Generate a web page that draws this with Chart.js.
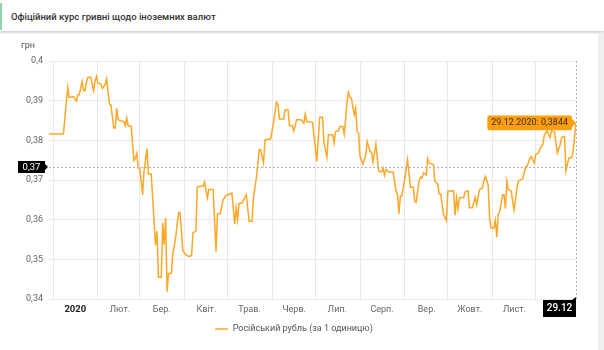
<!DOCTYPE html>
<html>
<head>
<meta charset="utf-8">
<script src="https://cdn.jsdelivr.net/npm/chart.js@4.4.1/dist/chart.umd.min.js"></script>
<style>
  html, body { margin: 0; padding: 0; }
  body { width: 604px; height: 350px; background: #f0f0f0; position: relative; overflow: hidden; font-family: Roboto, sans-serif; }
  #head { position: absolute; left: 0; top: 0; width: 604px; height: 31px; background: #fff; box-shadow: 0 1px 2px rgba(0,0,0,0.15); }
  #head .bar { position: absolute; left: 0; top: 3px; width: 2px; height: 27px; background: #8fd3ae; }
  #head .title { position: absolute; left: 11px; top: 11px; font-size: 9.5px; line-height: 11px; font-weight: 500; color: #333; }
  #card { position: absolute; left: 0; top: 34px; width: 598px; height: 316px; background: #fff; }
  #wrap { position: absolute; left: 0; top: 0; width: 604px; height: 350px; }
</style>
</head>
<body>
<div id="head"><div class="bar"></div><div class="title">Офіційний курс гривні щодо іноземних валют</div></div>
<div id="card"></div>
<div id="wrap"><canvas id="chart"></canvas></div>
<script>
// day of year 2020 (0 = 1 Jan) and official rate, UAH per 1 RUB
const days = [
  -3, 7, 10, 11, 14, 16, 17, 18, 20, 21,
  22, 23, 24, 26, 28, 29, 30, 31, 33, 34,
  36, 37, 38, 39, 40, 42, 43, 44, 45, 47,
  49, 50, 51, 52, 54, 56, 57, 58, 59, 60,
  62, 63, 65, 66, 68, 69, 71, 72, 73, 75,
  76, 77, 78, 79, 80, 82, 83, 85, 87, 88,
  90, 92, 94, 96, 97, 99, 100, 102, 104, 105,
  107, 108, 111, 113, 114, 116, 118, 120, 124, 126,
  127, 128, 129, 131, 134, 136, 138, 139, 141, 143,
  144, 146, 147, 151, 153, 155, 156, 157, 160, 161,
  163, 164, 166, 167, 169, 172, 174, 175, 176, 180,
  183, 185, 187, 188, 190, 191, 194, 195, 196, 198,
  199, 201, 202, 203, 204, 205, 206, 207, 209, 210,
  211, 212, 213, 215, 217, 218, 220, 221, 222, 224,
  226, 228, 229, 230, 231, 233, 236, 238, 239, 240,
  241, 242, 244, 246, 247, 248, 250, 251, 252, 254,
  255, 256, 257, 259, 260, 261, 264, 265, 267, 268,
  269, 271, 273, 274, 278, 279, 280, 281, 282, 285,
  286, 288, 289, 291, 293, 294, 296, 298, 299, 300,
  302, 303, 304, 306, 307, 308, 309, 310, 312, 313,
  314, 315, 316, 318, 319, 320, 322, 323, 325, 326,
  328, 329, 331, 332, 334, 335, 337, 338, 340, 341,
  343, 344, 345, 346, 348, 349, 350, 352, 353, 355,
  356, 358, 360, 361, 363
];
const rates = [
  0.3816, 0.3816, 0.3933, 0.3908, 0.3910, 0.3899, 0.3915, 0.3915, 0.3948, 0.3925,
  0.3925, 0.3946, 0.3959, 0.3959, 0.3925, 0.3950, 0.3961, 0.3944, 0.3942, 0.3931,
  0.3940, 0.3955, 0.3923, 0.3891, 0.3889, 0.3831, 0.3831, 0.3881, 0.3852, 0.3849,
  0.3847, 0.3837, 0.3856, 0.3836, 0.3836, 0.3749, 0.3755, 0.3767, 0.3730, 0.3730,
  0.3663, 0.3722, 0.3779, 0.3715, 0.3715, 0.3655, 0.3536, 0.3571, 0.3455, 0.3455,
  0.3592, 0.3537, 0.3604, 0.3418, 0.3464, 0.3464, 0.3514, 0.3556, 0.3618, 0.3618,
  0.3521, 0.3512, 0.3507, 0.3509, 0.3567, 0.3571, 0.3682, 0.3684, 0.3684, 0.3695,
  0.3655, 0.3676, 0.3676, 0.3519, 0.3615, 0.3615, 0.3651, 0.3661, 0.3667, 0.3589,
  0.3630, 0.3600, 0.3641, 0.3642, 0.3663, 0.3596, 0.3596, 0.3655, 0.3705, 0.3776,
  0.3776, 0.3743, 0.3801, 0.3804, 0.3847, 0.3896, 0.3891, 0.3854, 0.3854, 0.3877,
  0.3877, 0.3837, 0.3837, 0.3824, 0.3852, 0.3852, 0.3843, 0.3866, 0.3847, 0.3846,
  0.3747, 0.3858, 0.3858, 0.3793, 0.3757, 0.3814, 0.3814, 0.3793, 0.3822, 0.3824,
  0.3835, 0.3835, 0.3816, 0.3852, 0.3898, 0.3921, 0.3908, 0.3906, 0.3864, 0.3881,
  0.3821, 0.3818, 0.3759, 0.3740, 0.3764, 0.3797, 0.3772, 0.3770, 0.3745, 0.3790,
  0.3722, 0.3720, 0.3730, 0.3712, 0.3726, 0.3720, 0.3720, 0.3672, 0.3663, 0.3615,
  0.3659, 0.3659, 0.3701, 0.3751, 0.3718, 0.3682, 0.3682, 0.3646, 0.3644, 0.3697,
  0.3707, 0.3705, 0.3718, 0.3713, 0.3754, 0.3743, 0.3739, 0.3697, 0.3690, 0.3665,
  0.3665, 0.3613, 0.3598, 0.3672, 0.3673, 0.3611, 0.3655, 0.3628, 0.3655, 0.3656,
  0.3670, 0.3673, 0.3630, 0.3630, 0.3656, 0.3638, 0.3676, 0.3680, 0.3698, 0.3709,
  0.3688, 0.3604, 0.3579, 0.3579, 0.3598, 0.3556, 0.3613, 0.3621, 0.3663, 0.3663,
  0.3628, 0.3697, 0.3676, 0.3672, 0.3646, 0.3625, 0.3680, 0.3698, 0.3701, 0.3703,
  0.3734, 0.3734, 0.3755, 0.3759, 0.3743, 0.3764, 0.3768, 0.3780, 0.3790, 0.3814,
  0.3824, 0.3814, 0.3807, 0.3824, 0.3821, 0.3797, 0.3768, 0.3789, 0.3807, 0.3810,
  0.3723, 0.3755, 0.3757, 0.3772, 0.3844
];
// month starts (day of year) and their labels
const monthStarts = [0, 31, 60, 91, 121, 152, 182, 213, 244, 274, 305, 335];
const monthLabels = ['2020', 'Лют.', 'Бер.', 'Квіт.', 'Трав.', 'Черв.', 'Лип.', 'Серп.', 'Вер.', 'Жовт.', 'Лист.', 'Груд.'];
const yTicks = [0.34, 0.35, 0.36, 0.37, 0.38, 0.39, 0.40];
const seriesName = 'Російський рубль (за 1 одиницю)';
// where the mouse sits on the picture (rate under the cursor)
const cursorRate = 0.3733;

const ORANGE = '#ffa726';

function dayToDate(d) {
  const dt = new Date(Date.UTC(2020, 0, 1 + d));
  const dd = String(dt.getUTCDate()).padStart(2, '0');
  const mm = String(dt.getUTCMonth() + 1).padStart(2, '0');
  return { dd: dd, mm: mm, yyyy: dt.getUTCFullYear() };
}
const comma = (v, n) => v.toFixed(n).replace('.', ',');
const yLabel = v => String(+v.toFixed(2)).replace('.', ',');

Chart.defaults.font.family = 'Roboto, sans-serif';
Chart.defaults.font.size = 9;
Chart.defaults.color = '#666';

// crosshair lines + black labels, and the "грн" unit
const crosshair = {
  id: 'crosshair',
  afterDatasetsDraw(chart) {
    const { ctx, chartArea: a, scales } = chart;
    const lastDay = days[days.length - 1];
    const px = Math.round(scales.x.getPixelForValue(lastDay));
    const py = Math.round(scales.y.getPixelForValue(cursorRate));
    ctx.save();
    ctx.strokeStyle = '#b0b0b0';
    ctx.lineWidth = 1;
    ctx.setLineDash([2, 2]);
    ctx.beginPath();
    ctx.moveTo(a.left, py + 0.5); ctx.lineTo(a.right, py + 0.5);
    ctx.moveTo(px + 0.5, a.top); ctx.lineTo(px + 0.5, a.bottom);
    ctx.stroke();
    ctx.setLineDash([]);

    ctx.textAlign = 'center';
    ctx.textBaseline = 'middle';

    // value label on y axis
    const r = a.left - 4;
    ctx.fillStyle = '#000';
    ctx.fillRect(r - 27, py - 6, 27, 12);
    ctx.beginPath();
    ctx.moveTo(r, py - 3); ctx.lineTo(r + 3, py); ctx.lineTo(r, py + 3);
    ctx.fill();
    ctx.fillStyle = '#fff';
    ctx.font = '9.5px Roboto, sans-serif';
    ctx.fillText(yLabel(cursorRate), r - 13.5, py + 0.5);

    // date label on x axis
    const d = dayToDate(lastDay);
    const top = a.bottom + 1;
    ctx.fillStyle = '#000';
    ctx.fillRect(px - 33, top, 33, 17);
    ctx.beginPath();
    ctx.moveTo(px - 4, top); ctx.lineTo(px, top - 3); ctx.lineTo(px, top);
    ctx.fill();
    ctx.fillStyle = '#fff';
    ctx.font = '500 10px Roboto, sans-serif';
    ctx.fillText(d.dd + '.' + d.mm, px - 16.5, top + 8.5);

    // unit over the y axis
    ctx.fillStyle = '#555';
    ctx.font = '9px Roboto, sans-serif';
    ctx.fillText('грн', 28, 46);
    ctx.restore();
  }
};

const chart = new Chart(document.getElementById('chart'), {
  type: 'line',
  data: {
    datasets: [{
      label: seriesName,
      data: days.map((d, i) => ({ x: d, y: rates[i] })),
      borderColor: ORANGE,
      backgroundColor: ORANGE,
      borderWidth: 1.5,
      pointRadius: 0,
      pointHoverRadius: 0,
      tension: 0,
      fill: false
    }]
  },
  options: {
    responsive: true,
    maintainAspectRatio: false,
    animation: false,
    events: [],
    layout: { padding: { left: 12, right: 28, top: 61, bottom: 6.5 } },
    scales: {
      x: {
        type: 'linear',
        min: -3,
        max: 363,
        afterBuildTicks: s => { s.ticks = monthStarts.map(v => ({ value: v })); },
        afterFit: s => { s.height = 17.5; },
        border: { display: false },
        grid: { color: '#e9e9e9', drawTicks: false },
        ticks: {
          autoSkip: false,
          maxRotation: 0,
          labelOffset: 22,
          padding: 5,
          callback: (v, i) => monthLabels[i],
          color: c => (c.index === 0 ? '#222' : '#666'),
          font: c => (c.index === 0 ? { weight: 'bold', size: 9.5 } : { size: 9 })
        }
      },
      y: {
        min: 0.34,
        max: 0.40,
        afterBuildTicks: s => { s.ticks = yTicks.map(v => ({ value: v })); },
        afterFit: s => { s.width = 37; },
        border: { display: false },
        grid: { color: '#e9e9e9', drawTicks: false },
        ticks: { padding: 6, callback: v => yLabel(v) }
      }
    },
    plugins: {
      legend: {
        position: 'bottom',
        labels: {
          usePointStyle: true,
          pointStyle: 'line',
          pointStyleWidth: 13,
          padding: 8,
          color: '#555',
          font: { size: 9 }
        }
      },
      tooltip: {
        backgroundColor: '#ff9d0a',
        bodyColor: '#333',
        bodyFont: { size: 9 },
        displayColors: false,
        padding: { top: 2, bottom: 2, left: 4, right: 4 },
        cornerRadius: 2,
        caretSize: 4,
        caretPadding: 0,
        callbacks: {
          title: () => [],
          label: c => {
            const d = dayToDate(c.parsed.x);
            return d.dd + '.' + d.mm + '.' + d.yyyy + ': ' + comma(c.parsed.y, 4);
          }
        }
      }
    }
  },
  plugins: [crosshair]
});

// hovered state of the picture: last point active
const last = days.length - 1;
const el = chart.getDatasetMeta(0).data[last];
chart.tooltip.setActiveElements([{ datasetIndex: 0, index: last }], { x: el.x, y: el.y });
chart.update();
</script>
</body>
</html>
